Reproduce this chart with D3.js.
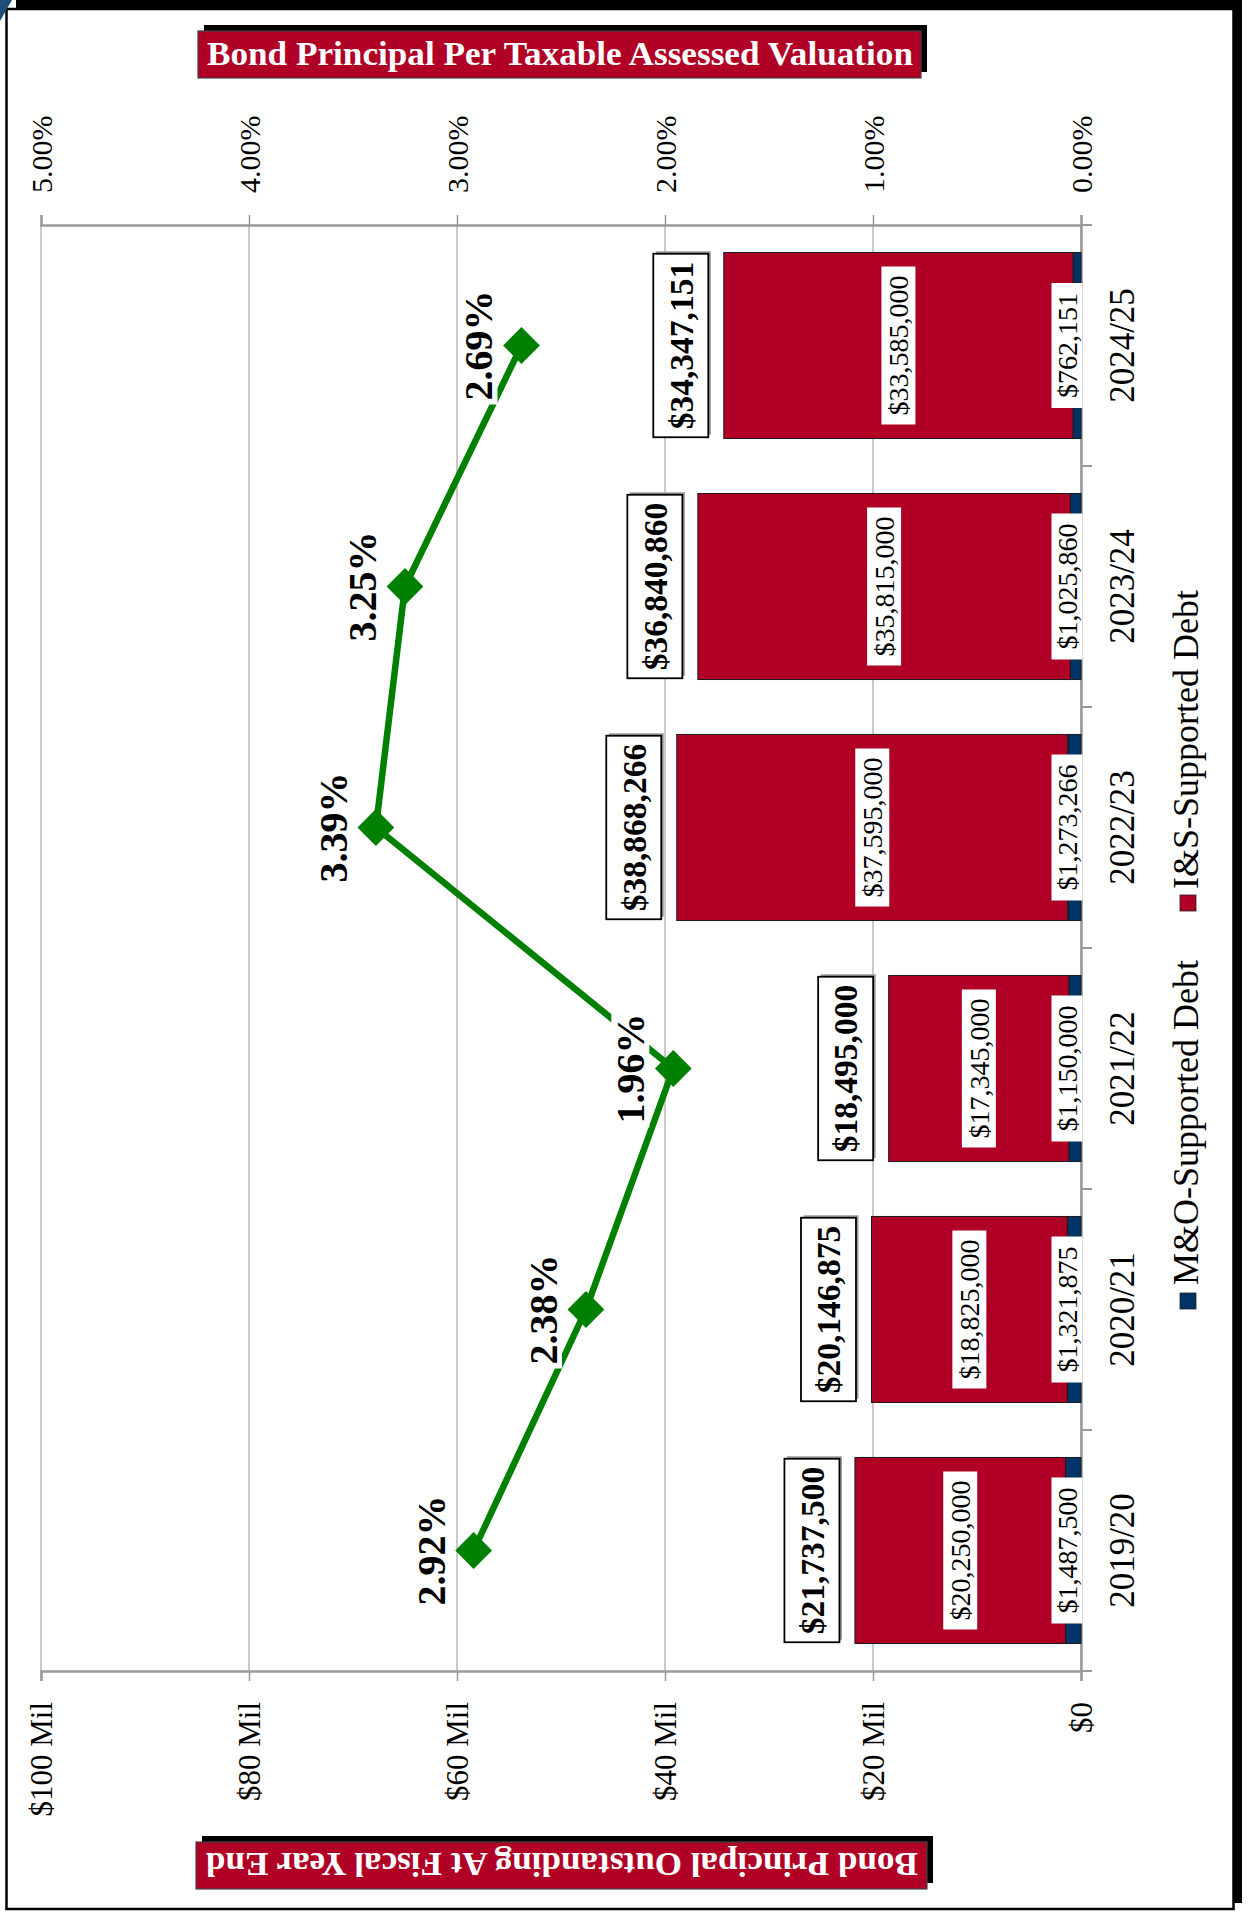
<!DOCTYPE html>
<html>
<head>
<meta charset="utf-8">
<script src="https://cdn.jsdelivr.net/npm/d3@7"></script>
<style>
  html, body { margin: 0; padding: 0; background: #fff; }
  svg { display: block; }
  text { font-family: "Liberation Serif", "DejaVu Serif", serif; }
</style>
</head>
<body>
<script>
// ---------------- data ----------------
const years = ["2019/20", "2020/21", "2021/22", "2022/23", "2023/24", "2024/25"];
const moDebt = [1487500, 1321875, 1150000, 1273266, 1025860, 762151];
const isDebt = [20250000, 18825000, 17345000, 37595000, 35815000, 33585000];
const pctValuation = [2.92, 2.38, 1.96, 3.39, 3.25, 2.69];
const valueTicks = [0, 20e6, 40e6, 60e6, 80e6, 100e6];
const valueTickLabels = ["$0", "$20 Mil", "$40 Mil", "$60 Mil", "$80 Mil", "$100 Mil"];
const pctTicks = [0, 1, 2, 3, 4, 5];
const pctTickLabels = ["0.00%", "1.00%", "2.00%", "3.00%", "4.00%", "5.00%"];
const seriesNames = ["M&O-Supported Debt", "I&S-Supported Debt"];
const topTitle = "Bond Principal Per Taxable Assessed Valuation";
const bottomTitle = "Bond Principal Outstanding At Fiscal Year End";

const RED = "#b00026", NAVY = "#003366", GREEN = "#008000";
const rows = years.map((c, i) => ({ c, mo: moDebt[i], is: isDebt[i], total: moDebt[i] + isDebt[i], p: pctValuation[i] }));

const W = 1248, H = 1915;
const svg = d3.select("body").append("svg").attr("width", W).attr("height", H);

// ---------------- frame ----------------
svg.append("rect").attr("x", 0).attr("y", 0).attr("width", W).attr("height", H).attr("fill", "#fff");
svg.append("rect").attr("x", 16).attr("y", 0).attr("width", 1226).attr("height", 1903).attr("fill", "#000");
svg.append("rect").attr("x", 6.5).attr("y", 9).attr("width", 1227).attr("height", 1900)
  .attr("fill", "#fff").attr("stroke", "#000").attr("stroke-width", 2.5);
svg.append("path").attr("d", "M0,0 L12,0 L0,21 Z").attr("fill", "#1f4e79");

// ---------------- scales ----------------
const PL = 41, PR = 1081, PT = 225, PB = 1671;
const x = d3.scaleLinear().domain([0, 100e6]).range([PR, PL]);
const xp = d3.scaleLinear().domain([0, 5]).range([PR, PL]);
const y = d3.scaleBand().domain(years.slice().reverse()).range([PT, PB]).paddingInner(0.228).paddingOuter(0.114);
const bw = y.bandwidth();
const cy = c => y(c) + bw / 2;

// ---------------- gridlines ----------------
svg.append("g").selectAll("line").data(valueTicks).join("line")
  .attr("x1", d => x(d)).attr("x2", d => x(d)).attr("y1", PT).attr("y2", PB)
  .attr("stroke", "#a6a6a6").attr("stroke-width", 1.2);

// ---------------- axes ----------------
const axTop = svg.append("g").attr("transform", `translate(0,${PT})`)
  .call(d3.axisTop(xp).tickValues(pctTicks).tickSize(10).tickFormat((d, i) => pctTickLabels[i]));
const axBot = svg.append("g").attr("transform", `translate(0,${PB})`)
  .call(d3.axisBottom(x).tickValues(valueTicks).tickSize(10).tickFormat((d, i) => valueTickLabels[i]));
[axTop, axBot].forEach(a => {
  a.select(".domain").attr("stroke", "#999").attr("stroke-width", 2.5);
  a.selectAll(".tick line").attr("stroke", "#999").attr("stroke-width", 1.5);
  a.selectAll(".tick text").attr("font-family", "Liberation Serif").attr("fill", "#000");
});
axTop.selectAll(".tick text").attr("font-size", 30).attr("y", null).attr("dy", "0.34em")
  .attr("transform", "rotate(-90)").attr("x", 32).attr("text-anchor", "start");
axBot.selectAll(".tick text").attr("font-size", 31).attr("y", null).attr("dy", "0.34em")
  .attr("transform", "rotate(-90)").attr("x", -31).attr("text-anchor", "end");

// category axis
const axCat = svg.append("g").attr("transform", `translate(${PR},0)`)
  .call(d3.axisRight(y).tickSize(0).tickSizeOuter(0));
axCat.select(".domain").attr("stroke", "#999").attr("stroke-width", 2.5);
axCat.selectAll(".tick text").attr("font-family", "Liberation Serif").attr("font-size", 35).attr("fill", "#000")
  .attr("x", null).attr("dy", null).attr("dominant-baseline", "central")
  .attr("transform", "translate(41,0) rotate(-90)").attr("text-anchor", "middle");
const step = y.step();
const bounds = d3.range(years.length + 1).map(i => PT + i * step);
svg.append("g").selectAll("line").data(bounds).join("line")
  .attr("x1", PR).attr("x2", PR + 11).attr("y1", d => d).attr("y2", d => d)
  .attr("stroke", "#999").attr("stroke-width", 2);

// ---------------- bars ----------------
const bars = svg.append("g");
bars.selectAll("rect.mo").data(rows).join("rect").attr("class", "mo")
  .attr("x", d => x(d.mo)).attr("width", d => x(0) - x(d.mo))
  .attr("y", d => y(d.c)).attr("height", bw)
  .attr("fill", NAVY).attr("stroke", "#1a1a1a").attr("stroke-width", 1);
bars.selectAll("rect.is").data(rows).join("rect").attr("class", "is")
  .attr("x", d => x(d.total)).attr("width", d => x(d.mo) - x(d.total))
  .attr("y", d => y(d.c)).attr("height", bw)
  .attr("fill", RED).attr("stroke", "#1a1a1a").attr("stroke-width", 1);

const fmt = d3.format("$,");

function boxedLabel(g, cx, cyv, txt, opts) {
  const grp = g.append("g").attr("transform", `translate(${cx},${cyv}) rotate(-90)`);
  const shadow = opts.shadow ? grp.append("rect") : null;
  const r = grp.append("rect");
  const t = grp.append("text").text(txt)
    .attr("font-size", opts.size).attr("font-weight", opts.bold ? "bold" : "normal")
    .attr("text-anchor", "middle").attr("dy", "0.35em").attr("fill", "#000");
  const len = t.node().getComputedTextLength();
  const w = len + opts.padL * 2, h = opts.h;
  r.attr("x", -w / 2).attr("y", -h / 2).attr("width", w).attr("height", h)
    .attr("fill", "#fff").attr("stroke", opts.stroke || "none").attr("stroke-width", opts.sw || 0);
  if (shadow) shadow.attr("x", -w / 2 + 2.5).attr("y", -h / 2 + 2.5).attr("width", w).attr("height", h).attr("fill", "#9a9a9a");
  return grp;
}

const labels = svg.append("g");
rows.forEach(d => {
  // I&S segment label
  boxedLabel(labels, (x(d.mo) + x(d.total)) / 2, cy(d.c), fmt(d.is), { size: 28, padL: 9, h: 34 });
  // M&O segment label
  boxedLabel(labels, x(0) - 14, cy(d.c), fmt(d.mo), { size: 28, padL: 10, h: 31 });
  // total label
  boxedLabel(labels, x(d.total) - 43, cy(d.c), fmt(d.total),
    { size: 33.5, bold: true, padL: 8, h: 55, stroke: "#000", sw: 1.8, shadow: true });
});

// ---------------- line series ----------------
const line = d3.line().x(d => xp(d.p)).y(d => cy(d.c));
svg.append("path").datum(rows).attr("d", line)
  .attr("fill", "none").attr("stroke", GREEN).attr("stroke-width", 6.5).attr("stroke-linejoin", "round");
const sq = d3.symbol().type(d3.symbolSquare).size(26 * 26);
svg.append("g").selectAll("path").data(rows).join("path")
  .attr("d", sq).attr("fill", GREEN)
  .attr("transform", d => `translate(${xp(d.p)},${cy(d.c)}) rotate(45)`);

const pl = svg.append("g");
rows.forEach(d => {
  boxedLabel(pl, xp(d.p) - 43, cy(d.c), d.p.toFixed(2) + "%", { size: 40, bold: true, padL: 4, h: 38 });
});

// ---------------- legend ----------------
const legend = svg.append("g");
const legendItems = [
  { name: seriesNames[0], color: NAVY, sqY: 1293, textY: 1285 },
  { name: seriesNames[1], color: RED, sqY: 895, textY: 889 }
];
legendItems.forEach(it => {
  legend.append("rect").attr("x", 1180).attr("y", it.sqY).attr("width", 16).attr("height", 16)
    .attr("fill", it.color).attr("stroke", "#222").attr("stroke-width", 0.8);
  legend.append("text").text(it.name)
    .attr("transform", `translate(1198,${it.textY}) rotate(-90)`)
    .attr("font-size", 36).attr("fill", "#000").attr("text-anchor", "start");
});

// ---------------- titles ----------------
function titleBox(x0, y0, w, h) {
  svg.append("rect").attr("x", x0 + 6).attr("y", y0 - 6).attr("width", w).attr("height", h).attr("fill", "#000");
  svg.append("rect").attr("x", x0).attr("y", y0).attr("width", w).attr("height", h)
    .attr("fill", RED).attr("stroke", "#444").attr("stroke-width", 1.2);
}
titleBox(198, 31, 723, 47);
svg.append("text").text(topTitle).attr("x", 560).attr("y", 65)
  .attr("text-anchor", "middle").attr("fill", "#fff").attr("font-size", 34).attr("font-weight", "bold")
  .attr("textLength", 706).attr("lengthAdjust", "spacingAndGlyphs");

titleBox(196, 1842, 731, 47);
svg.append("text").text(bottomTitle)
  .attr("transform", "translate(562,1853) rotate(180)")
  .attr("text-anchor", "middle").attr("fill", "#fff").attr("font-size", 34).attr("font-weight", "bold")
  .attr("textLength", 712).attr("lengthAdjust", "spacingAndGlyphs");
</script>
</body>
</html>
